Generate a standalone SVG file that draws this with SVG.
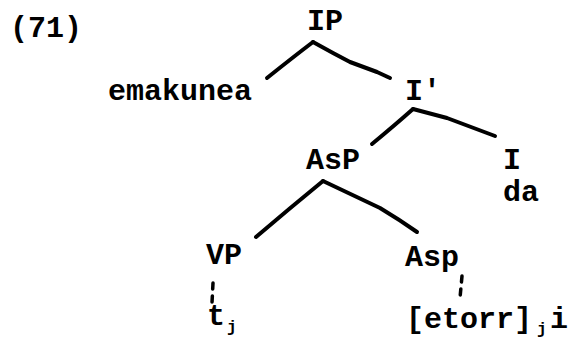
<svg xmlns="http://www.w3.org/2000/svg" width="583" height="340" viewBox="0 0 583 340">
<style>
text{font-family:"Liberation Mono","DejaVu Sans Mono",monospace;font-weight:bold;font-size:30px;fill:#000}
.sub{font-size:16px}
.edge{fill:none;stroke:#000;stroke-width:4;stroke-linecap:round;stroke-linejoin:round}
.dash{fill:none;stroke:#000;stroke-width:3.5;stroke-linecap:round;stroke-dasharray:6 7}
</style>
<rect width="583" height="340" fill="#fff"/>
<text x="10" y="37">(71)</text>
<g id="connectors">
<path class="edge" d="M313,42 Q292,58 267,78"/>
<path class="edge" d="M313,42 L333,53 L350,62 L377,72 L390,78"/>
<path class="edge" d="M413,109 Q395,125 372,144"/>
<path class="edge" d="M413,109 L447,118 L495,136"/>
<path class="edge" d="M323,181 Q290,208 256,237"/>
<path class="edge" d="M323,181 L380,208 Q400,220 417,232"/>
<path class="dash" d="M213,283 L212,303"/>
<path class="dash" d="M462,276 L460,298"/>
</g>
<g id="IP"><text x="307" y="30">IP</text></g>
<g id="emakunea"><text x="108" y="100">emakunea</text></g>
<g id="Ibar"><text x="405" y="100">I′</text></g>
<g id="AsP"><text x="306" y="169">AsP</text></g>
<g id="I"><text x="503" y="169">I</text><text x="503" y="201">da</text></g>
<g id="VP"><text x="206" y="264">VP</text></g>
<g id="Asp"><text x="405" y="266">Asp</text></g>
<g id="t"><text x="207" y="325">t</text><text class="sub" x="227" y="332">j</text></g>
<g id="etorr"><text x="406" y="328">[etorr]</text><text class="sub" x="537" y="334">j</text><text x="550" y="328">i</text></g>
</svg>
